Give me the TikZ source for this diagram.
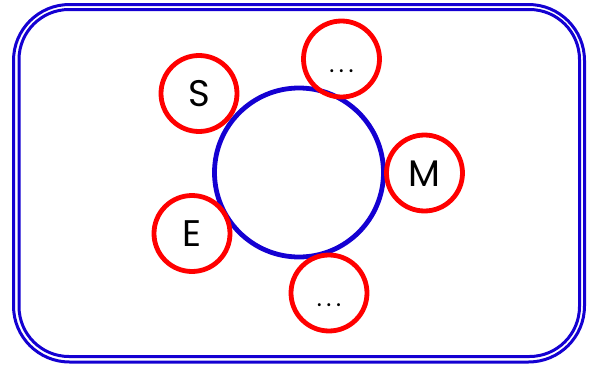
\documentclass[tikz,border=0pt]{standalone}
\usepackage{fontspec}
\setmainfont{Poppins}
\definecolor{frameblue}{RGB}{20,0,210}
\definecolor{ringred}{RGB}{255,0,0}
\tikzset{
  member/.style={circle, draw=ringred, line width=4.8pt, minimum size=76pt, inner sep=0pt,
    text height=26pt, text depth=0pt, font=\fontsize{37}{42}\selectfont},
  hubstyle/.style={circle, draw=frameblue, line width=4.8pt, minimum size=169pt, inner sep=0pt},
  framestyle/.style={draw=frameblue, line width=3pt}
}
\newcommand{\mydots}{{\fontsize{24}{26}\selectfont .\kern4.5pt.\kern4.5pt.}}
\begin{document}
\begin{tikzpicture}[x=1pt,y=-1pt]
\useasboundingbox (0,0) rectangle (598,367);
\draw[framestyle, rounded corners=56pt] (13.5,4.5) rectangle (584.5,362);
\draw[framestyle, rounded corners=50pt] (19,9.5) rectangle (579.5,356.5);
\node[hubstyle] (hub) at (299,172.5) {};
\node[member] (s) at (199,93.5) {S};
\node[member] (top) at (341.5,59) {\mydots};
\node[member] (m) at (424.5,173) {M};
\node[member] (e) at (192,233.5) {E};
\node[member] (bot) at (329,293) {\mydots};
\end{tikzpicture}
\end{document}
